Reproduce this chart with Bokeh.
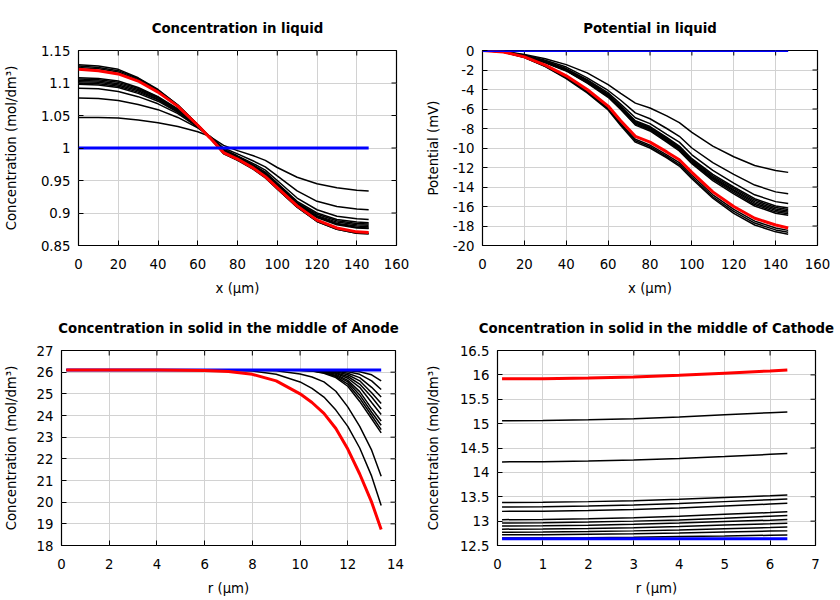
from bokeh.plotting import figure
from bokeh.models import Range1d, FixedTicker, CustomJSTickFormatter
from bokeh.layouts import column, row
from bokeh.embed import file_html
from bokeh.resources import INLINE

FONT = "DejaVu Sans"

# ---------------- Concentration in liquid ----------------
X_LIQ = [0, 10, 20, 30, 40, 50, 60, 66, 73, 80, 88, 94, 100, 110, 120, 130, 140, 146]
LIQ_INIT_X = [0, 146]
LIQ_INIT_C = [1.0, 1.0]
LIQ_C_A = [1.047, 1.047, 1.046, 1.043, 1.039, 1.033, 1.025, 1.018, 1.004, 0.996, 0.988, 0.981, 0.970, 0.955, 0.945, 0.939, 0.935, 0.934]
LIQ_C_B = [1.077, 1.076, 1.073, 1.067, 1.059, 1.047, 1.031, 1.018, 1.000, 0.991, 0.980, 0.971, 0.957, 0.934, 0.918, 0.910, 0.906, 0.905]
LIQ_C_C = [1.092, 1.091, 1.087, 1.079, 1.068, 1.053, 1.032, 1.018, 0.998, 0.988, 0.976, 0.966, 0.950, 0.923, 0.905, 0.895, 0.891, 0.890]
LIQ_C_D1 = [1.098, 1.097, 1.093, 1.084, 1.072, 1.055, 1.033, 1.018, 0.997, 0.987, 0.974, 0.963, 0.946, 0.918, 0.900, 0.890, 0.886, 0.885]
LIQ_C_D2 = [1.100, 1.099, 1.095, 1.086, 1.074, 1.056, 1.033, 1.018, 0.996, 0.986, 0.973, 0.962, 0.945, 0.916, 0.898, 0.888, 0.884, 0.883]
LIQ_C_D3 = [1.102, 1.101, 1.097, 1.088, 1.075, 1.057, 1.034, 1.018, 0.996, 0.986, 0.972, 0.961, 0.944, 0.915, 0.896, 0.886, 0.882, 0.881]
LIQ_C_D4 = [1.104, 1.103, 1.099, 1.090, 1.077, 1.058, 1.034, 1.017, 0.995, 0.985, 0.971, 0.960, 0.943, 0.914, 0.895, 0.884, 0.880, 0.879]
LIQ_C_D5 = [1.106, 1.105, 1.101, 1.092, 1.078, 1.059, 1.035, 1.017, 0.995, 0.985, 0.971, 0.959, 0.942, 0.913, 0.894, 0.883, 0.878, 0.877]
LIQ_C_D6 = [1.108, 1.107, 1.103, 1.093, 1.079, 1.060, 1.035, 1.017, 0.994, 0.984, 0.970, 0.958, 0.941, 0.912, 0.893, 0.882, 0.877, 0.876]
LIQ_C_E1 = [1.124, 1.122, 1.117, 1.105, 1.088, 1.065, 1.036, 1.016, 0.992, 0.982, 0.968, 0.955, 0.938, 0.910, 0.888, 0.876, 0.870, 0.869]
LIQ_C_E2 = [1.126, 1.124, 1.119, 1.107, 1.089, 1.066, 1.036, 1.016, 0.992, 0.982, 0.968, 0.955, 0.937, 0.909, 0.887, 0.875, 0.869, 0.868]
LIQ_C_E3 = [1.128, 1.126, 1.121, 1.108, 1.090, 1.066, 1.036, 1.016, 0.991, 0.981, 0.967, 0.954, 0.937, 0.909, 0.887, 0.875, 0.869, 0.868]
LIQ_C_FINAL = [1.121, 1.119, 1.114, 1.103, 1.086, 1.064, 1.035, 1.016, 0.993, 0.983, 0.969, 0.956, 0.939, 0.911, 0.889, 0.877, 0.871, 0.870]
LIQ_C_BLACK = [LIQ_C_A, LIQ_C_B, LIQ_C_C, LIQ_C_D1, LIQ_C_D2, LIQ_C_D3, LIQ_C_D4, LIQ_C_D5, LIQ_C_D6,
               LIQ_C_E1, LIQ_C_E2, LIQ_C_E3]

# ---------------- Potential in liquid ----------------
POT_INIT_X = [0, 146]
POT_INIT_V = [0.0, 0.0]
POT_P1 = [0, -0.10, -0.40, -0.85, -1.45, -2.30, -3.50, -4.40, -5.40, -5.90, -6.70, -7.40, -8.40, -9.80, -10.90, -11.80, -12.30, -12.50]
POT_P2 = [0, -0.10, -0.45, -1.00, -1.70, -2.80, -4.10, -5.10, -6.40, -7.00, -8.00, -8.80, -10.00, -11.50, -12.70, -13.80, -14.50, -14.70]
POT_P3 = [0, -0.12, -0.50, -1.10, -1.85, -3.00, -4.35, -5.50, -6.90, -7.50, -8.60, -9.40, -10.70, -12.30, -13.60, -14.80, -15.50, -15.70]
POT_Q1 = [0, -0.12, -0.52, -1.15, -1.95, -3.10, -4.50, -5.70, -7.20, -7.80, -8.90, -9.80, -11.10, -12.70, -14.00, -15.20, -15.95, -16.15]
POT_Q2 = [0, -0.12, -0.53, -1.17, -1.98, -3.15, -4.55, -5.80, -7.30, -7.90, -9.00, -9.90, -11.20, -12.85, -14.15, -15.35, -16.10, -16.30]
POT_Q3 = [0, -0.13, -0.54, -1.19, -2.00, -3.20, -4.60, -5.85, -7.40, -8.00, -9.10, -10.00, -11.30, -13.00, -14.30, -15.50, -16.25, -16.45]
POT_Q4 = [0, -0.13, -0.55, -1.21, -2.03, -3.25, -4.65, -5.90, -7.45, -8.05, -9.20, -10.10, -11.40, -13.10, -14.40, -15.65, -16.40, -16.60]
POT_Q5 = [0, -0.13, -0.56, -1.23, -2.06, -3.30, -4.70, -5.95, -7.55, -8.15, -9.30, -10.20, -11.50, -13.20, -14.55, -15.80, -16.55, -16.75]
POT_Q6 = [0, -0.14, -0.57, -1.25, -2.10, -3.35, -4.80, -6.05, -7.65, -8.25, -9.40, -10.30, -11.60, -13.35, -14.70, -15.95, -16.70, -16.90]
POT_R1 = [0, -0.16, -0.68, -1.58, -2.72, -4.15, -5.90, -7.45, -9.10, -9.70, -10.70, -11.50, -12.80, -14.80, -16.30, -17.50, -18.20, -18.45]
POT_R2 = [0, -0.16, -0.70, -1.62, -2.80, -4.25, -6.00, -7.55, -9.25, -9.85, -10.85, -11.70, -13.00, -15.00, -16.50, -17.70, -18.40, -18.65]
POT_R3 = [0, -0.17, -0.72, -1.66, -2.88, -4.35, -6.10, -7.70, -9.40, -10.00, -11.00, -11.85, -13.15, -15.15, -16.70, -17.90, -18.60, -18.85]
POT_FINAL = [0, -0.15, -0.65, -1.50, -2.60, -4.00, -5.70, -7.20, -8.80, -9.40, -10.40, -11.20, -12.50, -14.50, -16.00, -17.20, -17.90, -18.20]
POT_BLACK = [POT_P1, POT_P2, POT_P3, POT_Q1, POT_Q2, POT_Q3, POT_Q4, POT_Q5, POT_Q6, POT_R1, POT_R2, POT_R3]

# ---------------- Solid, middle of anode ----------------
R_AN = [0.2, 2, 4, 6, 7, 8, 9, 10, 10.5, 11, 11.5, 12, 12.5, 13, 13.4]
AN_INIT_R = [0.2, 13.4]
AN_INIT_C = [26.1, 26.1]
AN_FINAL = [26.1, 26.1, 26.1, 26.08, 26.03, 25.9, 25.6, 25.0, 24.6, 24.1, 23.4, 22.45, 21.3, 20.0, 18.74]
AN_K1 = [26.1, 26.1, 26.1, 26.1, 26.09, 26.05, 25.9, 25.55, 25.25, 24.85, 24.25, 23.5, 22.5, 21.2, 19.85]
AN_K2 = [26.1, 26.1, 26.1, 26.1, 26.1, 26.09, 26.06, 25.92, 25.78, 25.55, 25.12, 24.4, 23.5, 22.4, 21.2]
AN_C1 = [26.1, 26.1, 26.1, 26.1, 26.1, 26.1, 26.1, 26.08, 26.05, 25.95, 25.75, 25.35, 24.65, 23.85, 23.2]
AN_C2 = [26.1, 26.1, 26.1, 26.1, 26.1, 26.1, 26.1, 26.09, 26.06, 25.97, 25.8, 25.45, 24.8, 24.0, 23.35]
AN_C3 = [26.1, 26.1, 26.1, 26.1, 26.1, 26.1, 26.1, 26.09, 26.07, 26.0, 25.85, 25.55, 24.95, 24.15, 23.55]
AN_C4 = [26.1, 26.1, 26.1, 26.1, 26.1, 26.1, 26.1, 26.1, 26.08, 26.02, 25.9, 25.62, 25.1, 24.32, 23.75]
AN_C5 = [26.1, 26.1, 26.1, 26.1, 26.1, 26.1, 26.1, 26.1, 26.09, 26.04, 25.95, 25.72, 25.3, 24.6, 24.05]
AN_C6 = [26.1, 26.1, 26.1, 26.1, 26.1, 26.1, 26.1, 26.1, 26.1, 26.06, 25.98, 25.8, 25.45, 24.85, 24.3]
AN_C7 = [26.1, 26.1, 26.1, 26.1, 26.1, 26.1, 26.1, 26.1, 26.1, 26.08, 26.02, 25.88, 25.6, 25.05, 24.55]
AN_C8 = [26.1, 26.1, 26.1, 26.1, 26.1, 26.1, 26.1, 26.1, 26.1, 26.09, 26.05, 25.95, 25.75, 25.3, 24.85]
AN_C9 = [26.1, 26.1, 26.1, 26.1, 26.1, 26.1, 26.1, 26.1, 26.1, 26.1, 26.08, 26.02, 25.9, 25.6, 25.2]
AN_C10 = [26.1, 26.1, 26.1, 26.1, 26.1, 26.1, 26.1, 26.1, 26.1, 26.1, 26.1, 26.07, 26.02, 25.88, 25.6]
AN_BLACK = [AN_K1, AN_K2, AN_C1, AN_C2, AN_C3, AN_C4, AN_C5, AN_C6, AN_C7, AN_C8, AN_C9, AN_C10]

# ---------------- Solid, middle of cathode ----------------
R_CA = [0.1, 1, 2, 3, 4, 5, 6, 6.38]
CA_INIT_R = [0.1, 6.38]
CA_INIT_C = [12.637, 12.637]
CA_FINAL = [15.92, 15.92, 15.935, 15.955, 15.99, 16.035, 16.08, 16.10]
CA_B1 = [15.06, 15.065, 15.08, 15.10, 15.135, 15.18, 15.225, 15.24]
CA_B2 = [14.215, 14.22, 14.235, 14.255, 14.285, 14.325, 14.37, 14.385]
CA_G1 = [13.38, 13.385, 13.40, 13.42, 13.45, 13.485, 13.52, 13.535]
CA_G2 = [13.29, 13.295, 13.31, 13.33, 13.36, 13.40, 13.44, 13.455]
CA_G3 = [13.20, 13.205, 13.22, 13.24, 13.27, 13.31, 13.35, 13.365]
CA_H1 = [13.03, 13.035, 13.05, 13.07, 13.10, 13.14, 13.175, 13.19]
CA_H2 = [12.96, 12.965, 12.98, 13.0, 13.025, 13.06, 13.10, 13.115]
CA_H3 = [12.90, 12.905, 12.915, 12.935, 12.96, 12.99, 13.02, 13.035]
CA_H4 = [12.835, 12.84, 12.85, 12.865, 12.89, 12.92, 12.945, 12.955]
CA_H5 = [12.77, 12.775, 12.785, 12.80, 12.82, 12.845, 12.87, 12.88]
CA_H6 = [12.72, 12.72, 12.73, 12.74, 12.755, 12.775, 12.795, 12.80]
CA_H7 = [12.655, 12.655, 12.66, 12.67, 12.683, 12.695, 12.71, 12.715]
CA_BLACK = [CA_B1, CA_B2, CA_G1, CA_G2, CA_G3, CA_H1, CA_H2, CA_H3, CA_H4, CA_H5, CA_H6, CA_H7]

# ---------------- ticks ----------------
X_TICKS_LIQ = [0, 20, 40, 60, 80, 100, 120, 140, 160]
Y_TICKS_CLIQ = [0.85, 0.9, 0.95, 1.0, 1.05, 1.1, 1.15]
Y_TICKS_POT = [0, -2, -4, -6, -8, -10, -12, -14, -16, -18, -20]
X_TICKS_AN = [0, 2, 4, 6, 8, 10, 12, 14]
Y_TICKS_AN = [18, 19, 20, 21, 22, 23, 24, 25, 26, 27]
X_TICKS_CA = [0, 1, 2, 3, 4, 5, 6, 7]
Y_TICKS_CA = [12.5, 13, 13.5, 14, 14.5, 15, 15.5, 16, 16.5]

FMT_CODE = "return String(Math.round(tick*1000)/1000);"
FRAME_H = 195
TICK_LEN = 5


def make_fig(title, xr, yr, xt, yt, xlabel, ylabel, fw, bl, br, bt, bb, ylab_so, xlab_so):
    p = figure(title=title, frame_width=fw, frame_height=FRAME_H,
               x_range=Range1d(*xr), y_range=Range1d(*yr),
               output_backend="svg", toolbar_location=None,
               min_border_left=bl, min_border_right=br,
               min_border_top=bt, min_border_bottom=bb)
    p.background_fill_color = "white"
    p.border_fill_color = "white"
    p.outline_line_color = "black"
    p.outline_line_width = 1.2
    p.title.align = "center"
    p.title.text_font = FONT
    p.title.text_font_size = "13.3px"
    p.title.text_font_style = "bold"
    p.title.text_color = "black"
    p.title.standoff = 29

    for ax, ticks, lab, so, lso in ((p.xaxis[0], xt, xlabel, xlab_so, 13), (p.yaxis[0], yt, ylabel, ylab_so, 8)):
        ax.ticker = FixedTicker(ticks=ticks)
        ax.formatter = CustomJSTickFormatter(code=FMT_CODE)
        ax.axis_label = lab
        ax.axis_label_text_font = FONT
        ax.axis_label_text_font_size = "13.3px"
        ax.axis_label_text_font_style = "normal"
        ax.axis_label_text_color = "black"
        ax.axis_label_standoff = so
        ax.major_label_text_font = FONT
        ax.major_label_text_font_size = "13.3px"
        ax.major_label_text_color = "black"
        ax.major_label_standoff = lso
        ax.axis_line_color = None
        ax.major_tick_in = TICK_LEN
        ax.major_tick_out = 0
        ax.major_tick_line_color = "black"
        ax.major_tick_line_width = 1
        ax.minor_tick_in = 0
        ax.minor_tick_out = 0

    p.xgrid.ticker = FixedTicker(ticks=xt)
    p.ygrid.ticker = FixedTicker(ticks=yt)
    for g in (p.xgrid[0], p.ygrid[0]):
        g.grid_line_color = "#d2d2d2"
        g.grid_line_width = 1

    # mirrored inward ticks on the top and right edges of the frame
    dy = TICK_LEN * (yr[1] - yr[0]) / FRAME_H
    dx = TICK_LEN * (xr[1] - xr[0]) / fw
    p.segment(x0=xt, y0=[yr[1]] * len(xt), x1=xt, y1=[yr[1] - dy] * len(xt),
              line_color="black", line_width=1)
    p.segment(x0=[xr[1]] * len(yt), y0=yt, x1=[xr[1] - dx] * len(yt), y1=yt,
              line_color="black", line_width=1)
    return p


YLAB_C = "Concentration (mol/dm³)"

p1 = make_fig("Concentration in liquid", (0, 160), (0.85, 1.15), X_TICKS_LIQ, Y_TICKS_CLIQ,
              "x (µm)", YLAB_C, 318, 70, 20, 50, 54, 19, 9)
for ys in LIQ_C_BLACK:
    p1.line(X_LIQ, ys, line_color="black", line_width=1.5)
p1.line(X_LIQ, LIQ_C_FINAL, line_color="red", line_width=3)
p1.line(LIQ_INIT_X, LIQ_INIT_C, line_color="blue", line_width=3)

p2 = make_fig("Potential in liquid", (0, 160), (-20, 0), X_TICKS_LIQ, Y_TICKS_POT,
              "x (µm)", "Potential (mV)", 335, 66, 15, 50, 54, 9, 9)
for ys in POT_BLACK:
    p2.line(X_LIQ, ys, line_color="black", line_width=1.5)
p2.line(X_LIQ, POT_FINAL, line_color="red", line_width=3)
p2.line(POT_INIT_X, POT_INIT_V, line_color="blue", line_width=3)

p3 = make_fig("Concentration in solid in the middle of Anode", (0, 14), (18, 27), X_TICKS_AN, Y_TICKS_AN,
              "r (µm)", YLAB_C, 334, 54, 20, 51, 50, 15, 9)
for ys in AN_BLACK:
    p3.line(R_AN, ys, line_color="black", line_width=1.5)
p3.line(AN_INIT_R, AN_INIT_C, line_color="blue", line_width=3)
p3.line(R_AN, AN_FINAL, line_color="red", line_width=3)

p4 = make_fig("Concentration in solid in the middle of Cathode", (0, 7), (12.5, 16.5), X_TICKS_CA, Y_TICKS_CA,
              "r (µm)", YLAB_C, 318, 82, 22, 51, 50, 16, 9)
for ys in CA_BLACK:
    p4.line(R_CA, ys, line_color="black", line_width=1.5)
p4.line(R_CA, CA_FINAL, line_color="red", line_width=3)
p4.line(CA_INIT_R, CA_INIT_C, line_color="blue", line_width=3)

layout = column(row(p1, p2), row(p3, p4))

open("out.html", "w").write(file_html(layout, INLINE))
